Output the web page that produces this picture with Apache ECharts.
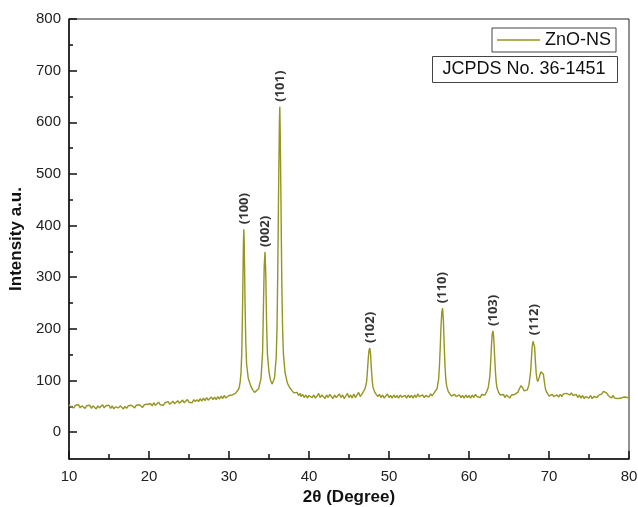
<!DOCTYPE html>
<html>
<head>
<meta charset="utf-8">
<script src="https://cdn.jsdelivr.net/npm/echarts@6/dist/echarts.min.js"></script>
<style>html,body{margin:0;padding:0;background:#fff;}#chart{width:638px;height:507px;}</style>
</head>
<body>
<div id="chart"></div>
<script>
// ---- Data: [2θ (deg), intensity (a.u.)] ----
const baseline10to31 = [
[10.0,53],[10.2,49],[10.4,52],[10.6,47],[10.8,52],[11.0,49],[11.2,53],[11.4,47],[11.6,51],[11.8,52],
[12.0,46],[12.2,51],[12.4,48],[12.6,52],[12.8,46],[13.0,51],[13.2,48],[13.4,45],[13.6,51],[13.8,47],
[14.0,49],[14.2,53],[14.4,47],[14.6,51],[14.8,48],[15.0,52],[15.2,46],[15.4,51],[15.6,45],[15.8,49],
[16.0,51],[16.2,47],[16.4,51],[16.6,48],[16.8,45],[17.0,50],[17.2,46],[17.4,51],[17.6,48],[17.8,52],
[18.0,49],[18.2,47],[18.4,52],[18.6,49],[18.8,53],[19.0,50],[19.2,48],[19.4,53],[19.6,50],[19.8,54],
[20.0,51],[20.2,55],[20.4,51],[20.6,57],[20.8,52],[21.0,55],[21.2,58],[21.4,53],[21.6,56],[21.8,52],
[22.0,57],[22.2,54],[22.4,59],[22.6,54],[22.8,57],[23.0,60],[23.2,55],[23.4,58],[23.6,61],[23.8,56],
[24.0,59],[24.2,62],[24.4,57],[24.6,60],[24.8,63],[25.0,58],[25.2,61],[25.4,57],[25.6,63],[25.8,59],
[26.0,63],[26.2,59],[26.4,65],[26.6,60],[26.8,66],[27.0,61],[27.2,67],[27.4,62],[27.6,61],[27.8,68],
[28.0,63],[28.2,68],[28.4,63],[28.6,69],[28.8,64],[29.0,70],[29.2,65],[29.4,71],[29.6,66],[29.8,69],
[30.0,71],[30.2,68],[30.4,72],[30.6,72],[30.8,75],[31.0,78],[31.2,83]
];
const peaks31to38 = [
[31.3,88],[31.4,98],[31.5,115],[31.6,155],[31.7,245],[31.8,365],[31.85,393],[31.9,370],[32.0,255],
[32.1,172],[32.2,132],[32.4,105],[32.7,90],[33.0,81],[33.2,77],[33.4,76],[33.7,84],[34.0,104],
[34.2,155],[34.3,238],[34.4,320],[34.5,349],[34.6,305],[34.7,210],[34.8,152],[35.0,116],[35.2,100],
[35.4,93],[35.5,92],[35.7,106],[35.9,145],[36.0,200],[36.1,315],[36.2,470],[36.3,600],[36.35,630],
[36.4,585],[36.5,440],[36.6,290],[36.7,200],[36.8,152],[37.0,116],[37.3,95],[37.6,86],[37.9,80],
[38.1,76],[38.3,74],[38.5,77],[38.7,71]
];
const baseline38to47 = [
[38.9,75],[39.0,69],[39.2,73],[39.4,67],[39.6,72],[39.8,66],[40.0,71],[40.2,74],[40.4,67],[40.6,72],
[40.8,66],[41.0,70],[41.2,75],[41.4,67],[41.6,72],[41.8,70],[42.0,65],[42.2,72],[42.4,67],[42.6,73],
[42.8,69],[43.0,65],[43.2,72],[43.4,67],[43.6,70],[43.8,74],[44.0,67],[44.2,72],[44.4,65],[44.6,70],
[44.8,75],[45.0,67],[45.2,72],[45.4,66],[45.6,74],[45.8,67],[46.0,72],[46.2,77],[46.4,69],[46.6,73],
[46.8,76],[47.0,84]
];
const peak102 = [
[47.2,97],[47.3,117],[47.4,141],[47.5,158],[47.6,163],[47.7,151],[47.8,122],[47.9,100],[48.0,87],
[48.2,78],[48.4,73]
];
const baseline48to56 = [
[48.6,69],[48.8,73],[49.0,67],[49.2,72],[49.4,66],[49.6,70],[49.8,74],[50.0,67],[50.2,71],[50.4,66],
[50.6,72],[50.8,67],[51.0,71],[51.2,66],[51.4,72],[51.6,68],[51.8,65],[52.0,71],[52.2,66],[52.4,72],
[52.6,67],[52.8,71],[53.0,66],[53.2,72],[53.4,67],[53.6,74],[53.8,69],[54.0,66],[54.2,72],[54.4,67],
[54.6,71],[54.8,74],[55.0,68],[55.2,74],[55.4,70],[55.6,75],[55.8,77],[56.0,84],[56.2,102]
];
const peak110 = [
[56.3,127],[56.4,162],[56.5,205],[56.6,232],[56.7,240],[56.8,216],[56.9,168],[57.0,128],[57.1,103],
[57.2,90],[57.4,79],[57.6,74]
];
const baseline57to62 = [
[57.8,70],[58.0,67],[58.2,73],[58.4,69],[58.6,66],[58.8,72],[59.0,67],[59.2,71],[59.4,66],[59.6,72],
[59.8,67],[60.0,71],[60.2,66],[60.4,72],[60.6,67],[60.8,73],[61.0,69],[61.2,72],[61.4,67],[61.6,73],
[61.8,75],[62.0,72],[62.2,78],[62.4,86],[62.6,107]
];
const peak103 = [
[62.7,132],[62.8,166],[62.9,190],[63.0,196],[63.1,181],[63.2,148],[63.3,118],[63.4,97],[63.5,86],
[63.7,77],[63.9,72]
];
const region64to70 = [
[64.1,69],[64.3,73],[64.5,67],[64.7,72],[64.9,69],[65.1,66],[65.3,72],[65.5,69],[65.7,73],[65.9,74],
[66.1,77],[66.3,84],[66.5,90],[66.6,91],[66.7,86],[66.9,80],[67.1,78],[67.3,82],[67.5,92],[67.7,117],
[67.8,142],[67.9,166],[68.0,176],[68.1,178],[68.2,165],[68.3,137],[68.4,114],[68.5,102],[68.6,98],
[68.7,100],[68.8,107],[68.9,113],[69.0,117],[69.1,119],[69.2,120],[69.3,112],[69.4,100],[69.5,89],
[69.6,81],[69.8,75]
];
const baseline70to80 = [
[70.0,70],[70.2,67],[70.4,73],[70.6,69],[70.8,66],[71.0,72],[71.2,68],[71.4,73],[71.6,69],[71.8,74],
[72.0,71],[72.2,75],[72.4,77],[72.6,72],[72.8,76],[73.0,71],[73.2,68],[73.4,73],[73.6,67],[73.8,72],
[74.0,66],[74.2,71],[74.4,65],[74.6,69],[74.8,72],[75.0,66],[75.2,71],[75.4,65],[75.6,69],[75.8,72],
[76.0,67],[76.2,71],[76.4,72],[76.6,74],[76.8,79],[77.0,81],[77.2,76],[77.4,71],[77.6,69],[77.8,66],
[78.0,71],[78.2,66],[78.4,69],[78.6,65],[78.8,68],[79.0,66],[79.2,64],[79.4,68],[79.6,65],[79.8,67],
[80.0,66]
];

// Peak annotations
const peakHkl       = ['(100)', '(002)', '(101)', '(102)', '(110)', '(103)', '(112)'];
const peakTheta     = [31.85, 34.5, 36.35, 47.6, 56.7, 63.0, 68.1];
const peakIntensity = [393, 349, 630, 163, 240, 196, 178];

// Axis ticks
const yMajorTicks = [0, 100, 200, 300, 400, 500, 600, 700, 800];
const yMinorTicks = [50, 150, 250, 350, 450, 550, 650, 750];

const seriesName = 'ZnO-NS';
const referenceText = 'JCPDS No. 36-1451';

const xrd = [].concat(baseline10to31, peaks31to38, baseline38to47, peak102,
  baseline48to56, peak110, baseline57to62, peak103, region64to70, baseline70to80);

const labelPoints = peakHkl.map((h, i) => ({ value: [peakTheta[i], peakIntensity[i]], name: h }));

const lineColor = '#959522';
const font = 'Liberation Sans, Arial, sans-serif';

const chart = echarts.init(document.getElementById('chart'));
chart.setOption({
  animation: false,
  backgroundColor: '#fff',
  grid: { left: 69, right: 9, top: 19, bottom: 48, containLabel: false, outerBoundsMode: 'none',
          show: true, borderColor: '#222', borderWidth: 1, backgroundColor: 'transparent' },
  legend: {
    data: [{ name: seriesName, icon: 'rect' }],
    left: 492, top: 28,
    padding: [3, 5, 3, 5],
    itemWidth: 43, itemHeight: 1.5, itemGap: 5,
    itemStyle: { color: lineColor },
    borderColor: '#444', borderWidth: 1,
    textStyle: { fontFamily: font, fontSize: 18, color: '#111' }
  },
  graphic: [{
    type: 'group', left: 432, top: 56,
    children: [
      { type: 'rect', shape: { x: 0, y: 0, width: 185, height: 26 }, style: { fill: '#fff', stroke: '#444', lineWidth: 1 } },
      { type: 'text', x: 10, y: 13, style: { text: referenceText, font: '18px ' + font, fill: '#111', verticalAlign: 'middle' } }
    ]
  }],
  xAxis: {
    type: 'value', min: 10, max: 80, interval: 10,
    name: '2θ (Degree)', nameLocation: 'middle', nameGap: 29,
    nameTextStyle: { fontFamily: font, fontSize: 17, fontWeight: 'bold', color: '#111' },
    axisLine: { onZero: false, lineStyle: { color: '#111', width: 1.5 } },
    axisTick: { inside: true, length: 8, lineStyle: { color: '#111', width: 1.5 } },
    minorTick: { show: true, splitNumber: 2, length: 5, lineStyle: { color: '#111', width: 1.5 } },
    axisLabel: { fontFamily: font, fontSize: 15, color: '#222', margin: 10 },
    splitLine: { show: false }
  },
  yAxis: [{
    type: 'value', min: -52, max: 800,
    name: 'Intensity a.u.', nameLocation: 'middle', nameGap: 38,
    nameTextStyle: { fontFamily: font, fontSize: 17, fontWeight: 'bold', color: '#111' },
    axisLine: { show: true, onZero: false, lineStyle: { color: '#111', width: 1.5 } },
    axisTick: { show: true, inside: true, length: 8, customValues: yMajorTicks, lineStyle: { color: '#111', width: 1.5 } },
    axisLabel: { fontFamily: font, fontSize: 15, color: '#222', margin: 8, customValues: yMajorTicks },
    splitLine: { show: false }
  }, {
    type: 'value', min: -52, max: 800, position: 'left', offset: 0,
    axisLine: { show: false, onZero: false },
    axisTick: { show: true, inside: true, length: 4, customValues: yMinorTicks, lineStyle: { color: '#111', width: 1.5 } },
    axisLabel: { show: false },
    splitLine: { show: false }
  }],
  series: [{
    name: seriesName, type: 'line', data: xrd, symbol: 'none', showSymbol: false,
    lineStyle: { color: lineColor, width: 1.4 }, itemStyle: { color: lineColor },
    emphasis: { disabled: true }
  }, {
    type: 'scatter', data: labelPoints, symbolSize: 0, silent: true,
    label: {
      show: true, position: 'top', distance: 5, rotate: 90,
      align: 'left', verticalAlign: 'middle',
      formatter: p => p.name,
      fontFamily: 'Open Sans, Liberation Sans, sans-serif', fontSize: 13, fontWeight: 700, color: '#000'
    }
  }]
});
</script>
</body>
</html>
